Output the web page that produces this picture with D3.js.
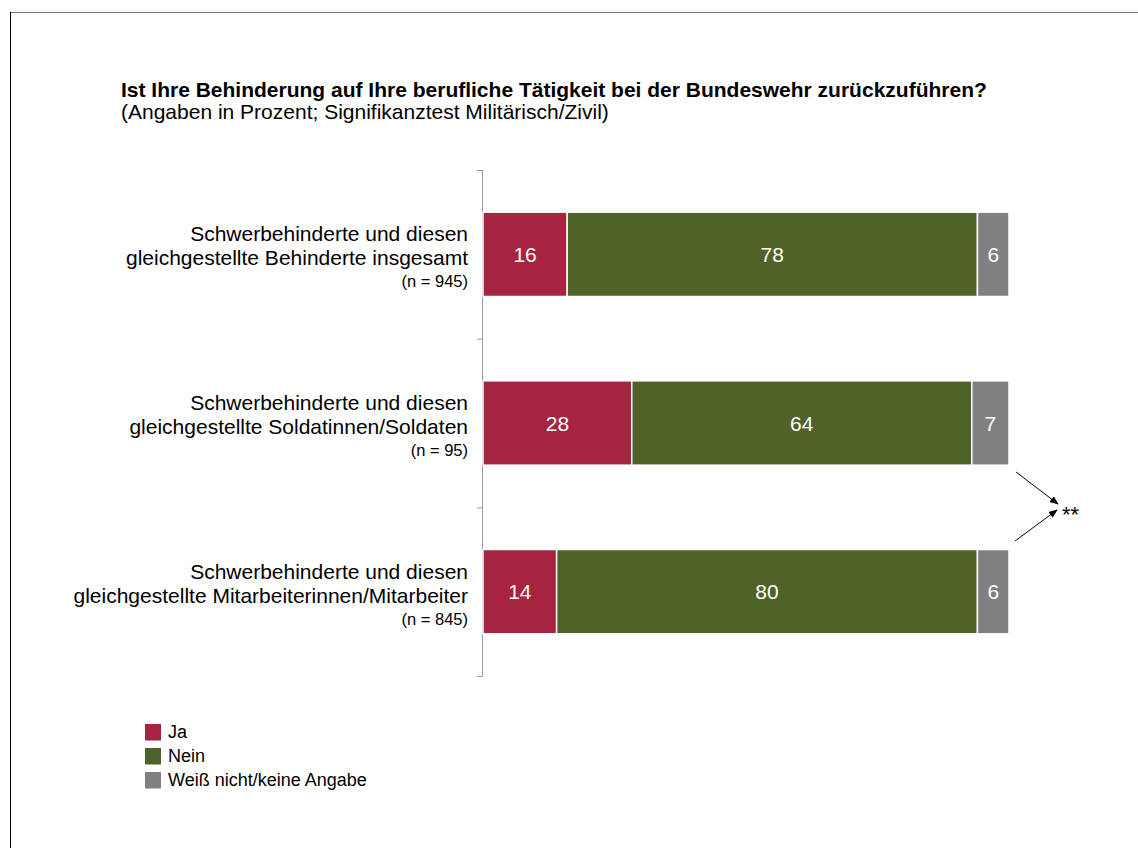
<!DOCTYPE html>
<html>
<head>
<meta charset="utf-8">
<script src="https://cdn.jsdelivr.net/npm/d3@7"></script>
<style>
  body { margin: 0; background: #fff; }
  svg text { font-family: "Liberation Sans", Arial, sans-serif; }
</style>
</head>
<body>
<script>
// data
var groups = [
  ['Schwerbehinderte und diesen', 'gleichgestellte Behinderte insgesamt'],
  ['Schwerbehinderte und diesen', 'gleichgestellte Soldatinnen/Soldaten'],
  ['Schwerbehinderte und diesen', 'gleichgestellte Mitarbeiterinnen/Mitarbeiter']
];
var nLabels = ['(n = 945)', '(n = 95)', '(n = 845)'];
var keys = ['Ja', 'Nein', 'Weiß nicht/keine Angabe'];
var ja = [16, 28, 14];
var nein = [78, 64, 80];
var weissNicht = [6, 7, 6];
var colors = ['#A52440', '#4F6228', '#808080'];

var width = 1138, height = 848;
var plotLeft = 483, plotRight = 1009, plotTop = 170, plotBottom = 676;

var rows = groups.map(function(g, i) {
  return { idx: i, 'Ja': ja[i], 'Nein': nein[i], 'Weiß nicht/keine Angabe': weissNicht[i] };
});

var svg = d3.select('body').append('svg')
  .attr('width', width)
  .attr('height', height);

// frame
svg.append('line').attr('x1', 10).attr('x2', width).attr('y1', 12.5).attr('y2', 12.5)
  .attr('stroke', '#777').attr('stroke-width', 1);
svg.append('line').attr('x1', 10.5).attr('x2', 10.5).attr('y1', 12).attr('y2', height)
  .attr('stroke', '#000').attr('stroke-width', 1);

// title
svg.append('text').attr('x', 121).attr('y', 97)
  .style('font-size', '21px').style('font-weight', 'bold')
  .text('Ist Ihre Behinderung auf Ihre berufliche Tätigkeit bei der Bundeswehr zurückzuführen?');
svg.append('text').attr('x', 121).attr('y', 119)
  .style('font-size', '21px')
  .text('(Angaben in Prozent; Signifikanztest Militärisch/Zivil)');

var x = d3.scaleLinear().domain([0, 1]).range([plotLeft, plotRight]);
var y = d3.scaleBand().domain(d3.range(groups.length)).range([plotTop, plotBottom]).paddingInner(0.5).paddingOuter(0.25);
var color = d3.scaleOrdinal().domain(keys).range(colors);

// rows are stacked to their own total (row 2 sums to 99)
var series = d3.stack().keys(keys).offset(d3.stackOffsetExpand)(rows);

// axis line + ticks between categories
var tickYs = d3.range(groups.length + 1).map(function(i) {
  return plotTop + i * (plotBottom - plotTop) / groups.length;
});
svg.append('line').attr('x1', plotLeft - 0.5).attr('x2', plotLeft - 0.5)
  .attr('y1', plotTop).attr('y2', plotBottom).attr('stroke', '#999');
svg.selectAll('.tick').data(tickYs).enter().append('line')
  .attr('x1', plotLeft - 6).attr('x2', plotLeft - 0.5)
  .attr('y1', function(d) { return d + 0.5; }).attr('y2', function(d) { return d + 0.5; })
  .attr('stroke', '#999');

var layer = svg.selectAll('.layer').data(series).enter().append('g')
  .attr('fill', function(d) { return color(d.key); });

layer.selectAll('rect').data(function(d) { return d; }).enter().append('rect')
  .attr('x', function(d) { return x(d[0]); })
  .attr('y', function(d) { return y(d.data.idx); })
  .attr('width', function(d) { return x(d[1]) - x(d[0]); })
  .attr('height', y.bandwidth())
  .attr('stroke', '#fff').attr('stroke-width', 1.5);

layer.each(function(s) {
  d3.select(this).selectAll('text').data(s).enter().append('text')
    .attr('x', function(d) { return (x(d[0]) + x(d[1])) / 2; })
    .attr('y', function(d) { return y(d.data.idx) + y.bandwidth() / 2 + 7.5; })
    .attr('text-anchor', 'middle')
    .attr('fill', '#fff')
    .style('font-size', '21px')
    .text(function(d) { return d.data[s.key]; });
});

// category labels
groups.forEach(function(g, i) {
  var cy = y(i) + y.bandwidth() / 2;
  var t = svg.append('text').attr('text-anchor', 'end');
  t.append('tspan').attr('x', 468).attr('y', cy - 13).style('font-size', '21px').text(g[0]);
  t.append('tspan').attr('x', 468).attr('y', cy + 11).style('font-size', '21px').text(g[1]);
  t.append('tspan').attr('x', 468).attr('y', cy + 33).style('font-size', '16.5px').text(nLabels[i]);
});

// significance arrows
svg.append('defs').append('marker')
  .attr('id', 'arr').attr('viewBox', '0 0 10 10').attr('refX', 9).attr('refY', 5)
  .attr('markerWidth', 9).attr('markerHeight', 9).attr('orient', 'auto')
  .append('path').attr('d', 'M0,1 L10,5 L0,9 Z').attr('fill', '#000');
svg.append('line').attr('x1', 1016).attr('y1', 472).attr('x2', 1058).attr('y2', 504)
  .attr('stroke', '#000').attr('marker-end', 'url(#arr)');
svg.append('line').attr('x1', 1015).attr('y1', 541).attr('x2', 1057).attr('y2', 510)
  .attr('stroke', '#000').attr('marker-end', 'url(#arr)');
svg.append('text').attr('x', 1062).attr('y', 522).style('font-size', '22px').text('**');

// legend
var legend = svg.selectAll('.legend').data(keys).enter().append('g')
  .attr('transform', function(d, i) { return 'translate(145,' + (724 + i * 24) + ')'; });
legend.append('rect').attr('width', 16).attr('height', 16.5)
  .attr('fill', function(d) { return color(d); });
legend.append('text').attr('x', 23).attr('y', 14)
  .style('font-size', '18px').text(function(d) { return d; });
</script>
</body>
</html>
